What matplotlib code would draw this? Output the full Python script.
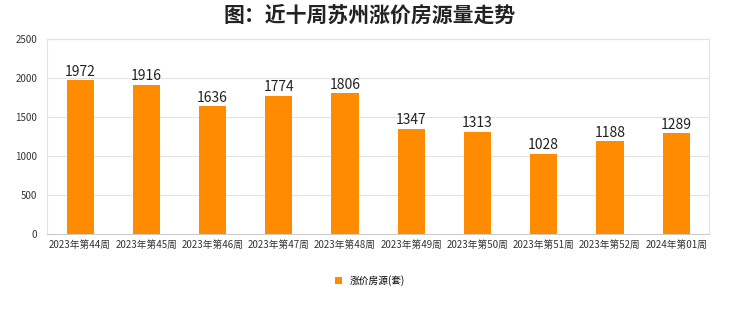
import matplotlib
matplotlib.use('Agg')
import matplotlib.pyplot as plt

plt.rcParams['font.family'] = ['Noto Sans CJK SC', 'DejaVu Sans']

# 数据
weeks = ['2023年第44周', '2023年第45周', '2023年第46周', '2023年第47周', '2023年第48周',
         '2023年第49周', '2023年第50周', '2023年第51周', '2023年第52周', '2024年第01周']
values = [1972, 1916, 1636, 1774, 1806, 1347, 1313, 1028, 1188, 1289]
yticks = [0, 500, 1000, 1500, 2000, 2500]

fig = plt.figure(figsize=(7.4, 3.12), dpi=100)
ax = fig.add_axes([0.0635, 0.25, 0.895, 0.625])

x = list(range(len(weeks)))
bars = ax.bar(x, values, width=0.41, color='#FF8C00', label='涨价房源(套)', zorder=3)

for xi, v in zip(x, values):
    ax.text(xi, v + 20, str(v), ha='center', va='bottom', fontsize=10, color='#222222')

ax.set_xlim(-0.5, len(weeks) - 0.5)
ax.set_ylim(0, 2500)
ax.set_yticks(yticks)
ax.set_xticks(x)
ax.set_xticklabels(weeks, fontsize=7, color='#333333')
ax.tick_params(axis='y', labelsize=7, colors='#333333', length=0, pad=7)
ax.tick_params(axis='x', length=0, pad=4)
ax.grid(axis='y', color='#e3e3e3', linewidth=0.8, zorder=0)

for side in ['left', 'right', 'top']:
    ax.spines[side].set_color('#e3e3e3')
ax.spines['bottom'].set_color('#cccccc')

fig.text(0.5, 0.952, '图：近十周苏州涨价房源量走势', fontsize=15, fontweight='bold',
         ha='center', va='center', color='#222222')

fig.legend(handles=[bars], labels=['涨价房源(套)'], loc='center', bbox_to_anchor=(0.5, 0.1),
           frameon=False, fontsize=7, handlelength=0.7, handleheight=0.7)

fig.savefig('out.png', dpi=100)
